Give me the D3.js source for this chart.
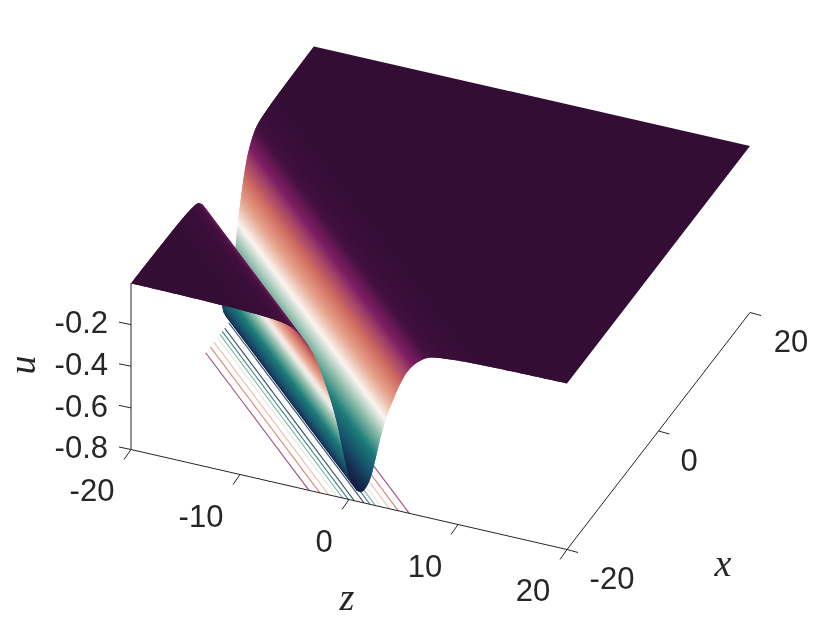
<!DOCTYPE html>
<html><head><meta charset="utf-8">
<style>html,body{margin:0;padding:0;background:#fff}svg{display:block;filter:blur(0.35px)}
text{font-family:"Liberation Sans",Arial,sans-serif;fill:#262626}
.m{font-family:"Liberation Serif",serif;font-style:italic}</style>
<script src="https://cdn.jsdelivr.net/npm/d3@7"></script></head><body><svg id="c" width="830" height="623"></svg>
<script>
// axis ticks
const zTicks=[-20,-10,0,10,20];
const xTicks=[-20,0,20];
const uTicks=[-0.8,-0.6,-0.4,-0.2];
const uLabels=["-0.8","-0.6","-0.4","-0.2"];
// valley cross-section: distance from valley centre line, depth u
const profileOffset=[0,0.3,0.69,1.15,1.46,2.07,2.53,3.14,3.75,4.51,5.43,6.5,7.42,10,14,20,60];
const profileU=[-0.754,-0.747,-0.719,-0.655,-0.585,-0.445,-0.36,-0.27,-0.19,-0.115,-0.062,-0.029,-0.02,-0.01,-0.005,-0.002,0];
// floor contours: offsets from the valley centre line and their levels
const contourOffset=[0.45,1.0,1.5,2.05,2.8,3.6,4.6];
const contourU=[-0.7,-0.6,-0.5,-0.4,-0.3,-0.2,-0.1];
const valleyCentre=-19.07; // x+z along valley floor
// colormap stops, low to high
const cmapPos=[0,0.125,0.25,0.375,0.5,0.625,0.75,0.84,0.89,0.92,0.96,0.99,1];
const cmapCol=["#151d44","#17506b","#1b7c78","#86b8a6","#fbf4f1","#e6a58e","#cf6a5e","#a03f68","#7c1c62","#6a1a58","#451040","#340d35","#340d35"];

const sz=d3.scaleLinear([-20,20],[0,436]);
const szy=d3.scaleLinear([-20,20],[0,100]);
const sx=d3.scaleLinear([-20,20],[0,183]);
const sxy=d3.scaleLinear([-20,20],[0,-237]);
const su=d3.scaleLinear([-0.8,0],[449.5,283]);
const P=(x,z,u)=>[131+sz(z)+sx(x),su(u)+szy(z)+sxy(x)];
const color=d3.scaleLinear().domain(cmapPos.map(t=>profileU[0]*(1-t))).range(cmapCol).interpolate(d3.interpolateRgb);

// monotone cubic through the profile
const n=profileOffset.length,sl=[],dl=[];
for(let i=0;i<n-1;i++)sl.push((profileU[i+1]-profileU[i])/(profileOffset[i+1]-profileOffset[i]));
for(let i=0;i<n;i++){
  if(i==0)dl.push(0);else if(i==n-1)dl.push(sl[n-2]);
  else dl.push(sl[i-1]*sl[i]<=0?0:2*sl[i-1]*sl[i]/(sl[i-1]+sl[i]));
}
function U(s){
  const a=Math.min(Math.abs(s),60);
  let i=d3.bisectRight(profileOffset,a)-1; if(i>=n-1)i=n-2;
  const h=profileOffset[i+1]-profileOffset[i],t=(a-profileOffset[i])/h;
  const t2=t*t,t3=t2*t;
  return (2*t3-3*t2+1)*profileU[i]+(t3-2*t2+t)*h*dl[i]+(-2*t3+3*t2)*profileU[i+1]+(t3-t2)*h*dl[i+1];
}
// end points of line x+z=c inside the square
function ends(c){
  return c>=0?[[20,c-20],[c-20,20]]:[[c+20,-20],[-20,c+20]];
}
const svg=d3.select("#c");
const defs=svg.append("defs");
const line=d3.line();
// floor contours
const floorG=svg.append("g");
contourOffset.forEach((o,i)=>{
  [-1,1].forEach(sg=>{
    const [a,b]=ends(valleyCentre+sg*o);
    floorG.append("path").attr("d",line([P(a[0],a[1],-0.8),P(b[0],b[1],-0.8)]))
      .attr("stroke",color(contourU[i])).attr("stroke-width",1.1).attr("fill","none").attr("stroke-opacity",0.85);
  });
});
// axes
const ax=svg.append("g").attr("stroke","#262626").attr("stroke-width",1).attr("fill","none");
const seg=(p,q)=>ax.append("path").attr("d",line([p,q]));
seg(P(-20,-20,-0.8),P(-20,20,-0.8));
seg(P(-20,20,-0.8),P(20,20,-0.8));
seg(P(-20,-20,-0.8),P(-20,-20,0));
zTicks.forEach(z=>{const p=P(-20,z,-0.8);seg(p,[p[0]-7,p[1]+10]);});
xTicks.forEach(x=>{const p=P(x,20,-0.8);seg(p,[p[0]+11,p[1]+3]);});
uTicks.forEach(u=>{const p=P(-20,-20,u);seg(p,[p[0]-12,p[1]-2.5]);});

// surface strips, far (high s) to near (low s); each carries a gradient across its width
const gr=svg.append("g");
const sHigh=40-valleyCentre,sLow=-40-valleyCentre;
const nx=8.425/10.54,ny=-6.325/10.54;
const pp=q=>q[0]*nx+q[1]*ny;
const nodes=[sHigh,-valleyCentre];
let s=-valleyCentre, last=s;
const fine=0.01;
while(s>sLow){
  s=Math.max(sLow,s-fine);
  const ea=ends(s+valleyCentre)[0], eb=ends(last+valleyCentre)[0];
  const dp=Math.abs(pp(P(ea[0],ea[1],U(s)))-pp(P(eb[0],eb[1],U(last))));
  if(dp>=2.5||last-s>=0.5||s<=sLow){
    nodes.push(s);last=s;
  }
}
let gid=0;
const edge=sv=>{const [a,b]=ends(sv+valleyCentre),u=U(sv);return [P(a[0],a[1],u),P(b[0],b[1],u)];};
for(let i=0;i<nodes.length-1;i++){
  const s1=nodes[i],s0=nodes[i+1];
  const u1=U(s1),u0=U(s0);
  const E1=edge(s1),E0=edge(s0);
  // polygon runs on under the next nearer strip so that no seam shows
  const pts=[E1[0],E0[0]];
  if(i<nodes.length-2){const E=edge(nodes[i+2]);pts.push(E[0],E[1]);}
  pts.push(E0[1],E1[1]);
  const A1=E1[0],A0=E0[0];
  const d=pp(A0)-pp(A1);
  let paint;
  if(Math.abs(d)<1){paint=color((u0+u1)/2);}
  else{
    const id="g"+(gid++);
    const g=defs.append("linearGradient").attr("id",id).attr("gradientUnits","userSpaceOnUse")
      .attr("x1",A1[0]).attr("y1",A1[1]).attr("x2",A1[0]+d*nx).attr("y2",A1[1]+d*ny);
    g.append("stop").attr("offset",0).attr("stop-color",color(u1));
    g.append("stop").attr("offset",1).attr("stop-color",color(u0));
    paint=`url(#${id})`;
  }
  gr.append("path").attr("d",line(pts)+"Z").attr("fill",paint);
}
// text
const T=(x,y,t,a="middle")=>svg.append("text").attr("x",x).attr("y",y).attr("text-anchor",a).attr("dominant-baseline","central").attr("font-size",31).text(t);
const uLabY=[447,406,364,322];
uLabels.forEach((t,i)=>T(108,uLabY[i],t,"end"));
const zLab=[[92,490],[201,516],[324,541],[425,566],[533,590]];
zTicks.forEach((z,i)=>T(zLab[i][0],zLab[i][1],String(z)));
const xLab=[[612,578],[689,460],[791,341]];
xTicks.forEach((x,i)=>T(xLab[i][0],xLab[i][1],String(x)));
const M=(tr,t)=>svg.append("text").attr("class","m").attr("transform",tr).attr("text-anchor","middle").attr("dominant-baseline","central").attr("font-size",38).text(t);
M("translate(347,597)","z");M("translate(723,563)","x");M("translate(22,365) rotate(-90)","u");
</script></body></html>
